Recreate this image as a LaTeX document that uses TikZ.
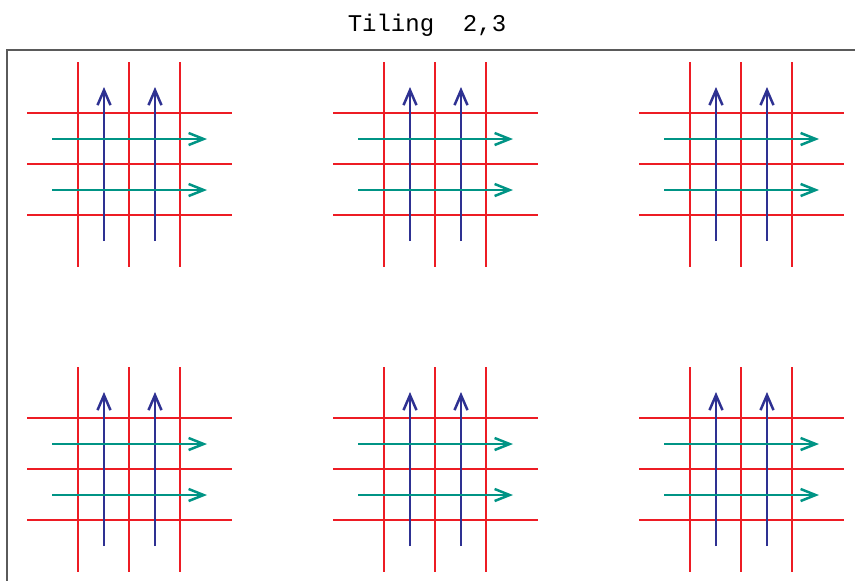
\documentclass[tikz,border=0pt]{standalone}
\usepackage{fontspec}
\setmonofont{Liberation Mono}
\usepackage{tikz}
\usetikzlibrary{arrows.meta}
\definecolor{myred}{RGB}{237,28,36}
\definecolor{myblue}{RGB}{46,49,146}
\definecolor{mygreen}{RGB}{0,148,133}
\definecolor{myframe}{RGB}{90,90,90}
\tikzset{
  redline/.style={color=myred, line width=2.5pt},
  uparrow/.style={-{Straight Barb[length=15pt, width=13pt]}, color=myblue, line width=2.5pt},
  rightarrow/.style={-{Straight Barb[length=15pt, width=12pt]}, color=mygreen, line width=2.5pt},
  frame/.style={draw=myframe, line width=1.4pt},
  title/.style={font=\fontsize{24}{24}\selectfont\ttfamily, anchor=base}
}

\begin{document}
\begin{tikzpicture}[x=1pt, y=-1pt]
  \useasboundingbox (0,0) rectangle (855,581);
  \clip (0,0) rectangle (855,581);
  \node[title] (ttl) at (427,31) {Tiling\ \ 2,3};
  \draw[frame] (7,50) rectangle (880,600);
  % one tile per offset
  \foreach \dx in {0,306,612} {
    \foreach \dy in {0,305} {
      \begin{scope}[shift={(\dx,\dy)}]
        \foreach \x in {78,129,180}
          \draw[redline] (\x,62) -- (\x,267);
        \foreach \y in {113,164,215}
          \draw[redline] (27,\y) -- (232,\y);
        \foreach \x in {104,155} {
          \coordinate (b\x) at (\x,241);
          \coordinate (t\x) at (\x,87);
          \draw[uparrow] (b\x) -- (t\x);
        }
        \foreach \y in {139,190} {
          \coordinate (l\y) at (52,\y);
          \coordinate (r\y) at (207,\y);
          \draw[rightarrow] (l\y) -- (r\y);
        }
      \end{scope}
    }
  }
\end{tikzpicture}
\end{document}
